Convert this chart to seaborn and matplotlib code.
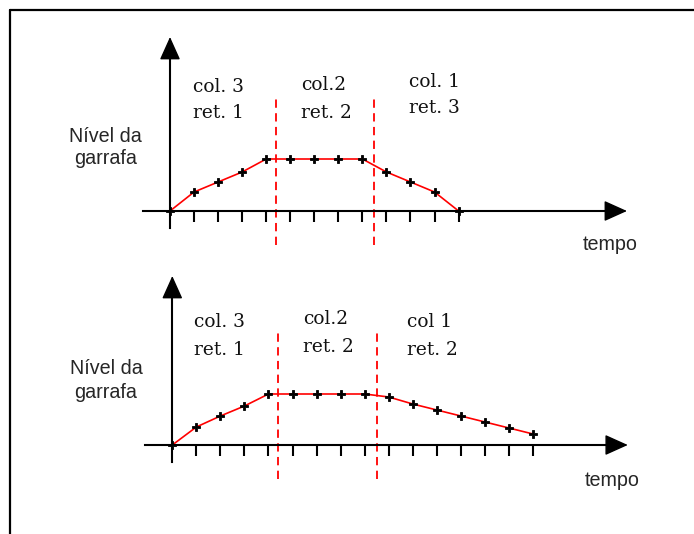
import matplotlib
matplotlib.use("Agg")
import matplotlib.pyplot as plt
from matplotlib.lines import Line2D
import seaborn as sns

# Bottle level over time, three columns emptying in turn
time_top = list(range(13))
level_top = [0, 19, 29, 39, 52, 52, 52, 52, 52, 39, 29, 19, 0]
time_bottom = list(range(16))
level_bottom = [0, 18, 29, 39, 51, 51, 51, 51, 51, 48, 41, 35, 29, 23, 17, 11]

# Phase boundaries (dashed) and phase captions
boundaries = [4.4, 8.5]
phases_top = [("col. 3", "ret. 1"), ("col.2", "ret. 2"), ("col. 1", "ret. 3")]
phases_bottom = [("col. 3", "ret. 1"), ("col.2", "ret. 2"), ("col 1", "ret. 2")]
y_label = ["Nível da", "garrafa"]
x_label = "tempo"

sns.set_style("white")
plt.rcParams["font.family"] = ["DejaVu Sans"]

W, H = 694, 534
fig = plt.figure(figsize=(W / 100, H / 100), dpi=100)
STEP = 24.05  # pixels per time step


def make_axes(ox, oy, top, bottom, left=20, right=690):
    ax = fig.add_axes([left / W, 1 - bottom / H, (right - left) / W, (bottom - top) / H])
    ax.set_xlim((left - ox) / STEP, (right - ox) / STEP)
    ax.set_ylim(-(bottom - oy), oy - top)
    ax.patch.set_alpha(0)
    return ax


def draw_panel(ax, t, lev, phases, ylab_x, ylab_y, cap_x, cap_y, x_tip, y_tip, temp_y):
    # axes with arrow heads
    for s in ("top", "right"):
        ax.spines[s].set_visible(False)
    for s in ("left", "bottom"):
        ax.spines[s].set_position(("data", 0))
        ax.spines[s].set_linewidth(1.5)
        ax.spines[s].set_color("black")
    ax.spines["bottom"].set_bounds(-1.12, x_tip - 0.5)
    ax.spines["left"].set_bounds(-17, y_tip - 10)
    ax.set_xticks(t[1:])
    ax.set_yticks([])
    ax.tick_params(axis="x", direction="out", length=8, width=1.5, color="black",
                   labelbottom=False, bottom=True)
    head = dict(arrowstyle="-|>,head_length=1.0,head_width=0.45", mutation_scale=14.4,
                color="black", lw=1.0, shrinkA=0, shrinkB=0)
    ax.annotate("", xy=(x_tip, 0), xytext=(x_tip - 1.2, 0), arrowprops=head)
    ax.annotate("", xy=(0, y_tip), xytext=(0, y_tip - 25), arrowprops=head)

    # phase separators
    ax.vlines(boundaries, -34, 114, colors="red", linestyles=(0, (4.6, 3.0)), lw=1.3)

    # level curve
    sns.lineplot(x=t, y=lev, ax=ax, color="red", lw=1.2, marker="P", markersize=5.5,
                 markeredgewidth=0.6, markeredgecolor="black", markerfacecolor="black")

    # captions
    for (c1, c2), cx, (cy1, cy2) in zip(phases, cap_x, cap_y):
        ax.text(cx, cy1, c1, family="DejaVu Serif", fontsize=13.4, ha="left", va="center",
                color="#111111")
        ax.text(cx, cy2, c2, family="DejaVu Serif", fontsize=13.4, ha="left", va="center",
                color="#111111")
    for txt, yy in zip(y_label, ylab_y):
        ax.text(ylab_x, yy, txt, family="Liberation Sans", fontsize=14.2, ha="center",
                va="center", clip_on=False)
    ax.text(18.3, temp_y, x_label, family="Liberation Sans", fontsize=14.2,
            ha="center", va="center")


ax1 = make_axes(170, 211, 25, 262)
draw_panel(ax1, time_top, level_top, phases_top, -2.7, [74, 52],
           [0.96, 5.45, 9.94], [(124, 98), (126, 98), (129, 103)],
           19.0, 174, -34)

ax2 = make_axes(172.3, 445, 262, 510)
draw_panel(ax2, time_bottom, level_bottom, phases_bottom, -2.76, [76, 53],
           [0.9, 5.43, 9.76], [(123, 95), (126, 98), (123, 95)],
           18.94, 169, -35)

# outer frame (left and top edges)
fig.add_artist(Line2D([10 / W, 10 / W], [0, 1 - 10 / H], color="black", lw=1.6,
                      transform=fig.transFigure))
fig.add_artist(Line2D([10 / W, 1], [1 - 10 / H, 1 - 10 / H], color="black", lw=1.6,
                      transform=fig.transFigure))

fig.savefig("out.png", dpi=100, facecolor="white")
